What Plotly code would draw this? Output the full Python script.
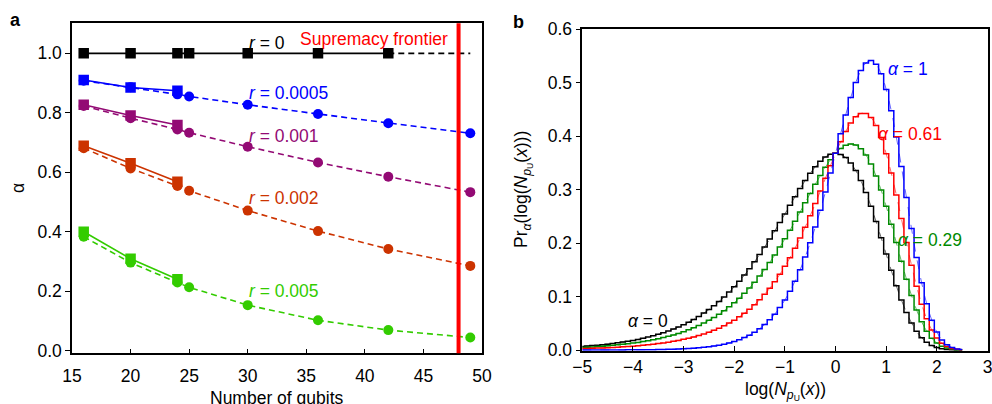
import plotly.graph_objects as go

# ---------------- Panel a data ----------------
qubits = [16, 20, 24, 25, 30, 36, 42, 49]
sim_qubits = [16, 20, 24]
r0_qubits = [16, 20, 24, 25, 30, 36, 42]
r0_values = [1.0, 1.0, 1.0, 1.0, 1.0, 1.0, 1.0]
r0_ext_qubits = [42, 49]
r0_ext_values = [1.0, 1.0]

theory_r0005 = [0.908, 0.886, 0.862, 0.855, 0.827, 0.796, 0.765, 0.731]
theory_r001 = [0.823, 0.782, 0.744, 0.733, 0.686, 0.633, 0.585, 0.533]
theory_r002 = [0.681, 0.613, 0.554, 0.538, 0.471, 0.402, 0.342, 0.285]
theory_r005 = [0.383, 0.296, 0.229, 0.213, 0.153, 0.102, 0.069, 0.044]

sim_r0005 = [0.910, 0.885, 0.874]
sim_r001 = [0.827, 0.791, 0.759]
sim_r002 = [0.689, 0.630, 0.568]
sim_r005 = [0.400, 0.309, 0.240]
sim_err = [0.012, 0.008, 0.012]

frontier_qubits = 48

# ---------------- Panel b data ----------------
log_bins = [-5.0, -4.9, -4.8, -4.7, -4.6, -4.5, -4.4, -4.3, -4.2, -4.1,
            -4.0, -3.9, -3.8, -3.7, -3.6, -3.5, -3.4, -3.3, -3.2, -3.1,
            -3.0, -2.9, -2.8, -2.7, -2.6, -2.5, -2.4, -2.3, -2.2, -2.1,
            -2.0, -1.9, -1.8, -1.7, -1.6, -1.5, -1.4, -1.3, -1.2, -1.1,
            -1.0, -0.9, -0.8, -0.7, -0.6, -0.5, -0.4, -0.3, -0.2, -0.1,
            0.0, 0.1, 0.2, 0.3, 0.4, 0.5, 0.6, 0.7, 0.8, 0.9,
            1.0, 1.1, 1.2, 1.3, 1.4, 1.5, 1.6, 1.7, 1.8, 1.9,
            2.0, 2.1, 2.2, 2.3, 2.4, 2.5]

pr_alpha0 = [0.0067, 0.0074, 0.0082, 0.0090, 0.0100, 0.0110, 0.0121, 0.0134, 0.0148, 0.0163,
             0.0180, 0.0198, 0.0219, 0.0241, 0.0266, 0.0293, 0.0323, 0.0355, 0.0391, 0.0431,
             0.0474, 0.0521, 0.0572, 0.0628, 0.0690, 0.0756, 0.0829, 0.0907, 0.0992, 0.1083,
             0.1182, 0.1288, 0.1401, 0.1522, 0.1650, 0.1785, 0.1927, 0.2075, 0.2229, 0.2386,
             0.2546, 0.2708, 0.2867, 0.3022, 0.3170, 0.3307, 0.3429, 0.3532, 0.3611, 0.3662,
             0.3679, 0.3660, 0.3601, 0.3500, 0.3356, 0.3170, 0.2947, 0.2688, 0.2403, 0.2102,
             0.1794, 0.1490, 0.1201, 0.0936, 0.0703, 0.0507, 0.0350, 0.0230, 0.0143, 0.0083,
             0.0046, 0.0023, 0.0011, 0.0005, 0.0002, 0.0001]

pr_alpha029 = [0.0048, 0.0053, 0.0058, 0.0064, 0.0071, 0.0078, 0.0087, 0.0096, 0.0106, 0.0117,
               0.0129, 0.0142, 0.0157, 0.0173, 0.0191, 0.0211, 0.0232, 0.0256, 0.0282, 0.0311,
               0.0343, 0.0378, 0.0416, 0.0458, 0.0505, 0.0555, 0.0610, 0.0670, 0.0736, 0.0808,
               0.0886, 0.0970, 0.1062, 0.1161, 0.1268, 0.1383, 0.1506, 0.1637, 0.1777, 0.1925,
               0.2080, 0.2242, 0.2409, 0.2581, 0.2756, 0.2930, 0.3101, 0.3266, 0.3421, 0.3561,
               0.3679, 0.3772, 0.3832, 0.3855, 0.3834, 0.3767, 0.3649, 0.3479, 0.3257, 0.2992,
               0.2688, 0.2355, 0.2009, 0.1660, 0.1326, 0.1019, 0.0750, 0.0527, 0.0352, 0.0221,
               0.0130, 0.0071, 0.0036, 0.0017, 0.0007, 0.0003]

pr_alpha061 = [0.0026, 0.0029, 0.0032, 0.0036, 0.0039, 0.0044, 0.0048, 0.0053, 0.0059, 0.0065,
               0.0072, 0.0080, 0.0088, 0.0098, 0.0108, 0.0120, 0.0133, 0.0147, 0.0162, 0.0180,
               0.0199, 0.0221, 0.0244, 0.0271, 0.0300, 0.0333, 0.0369, 0.0409, 0.0454, 0.0504,
               0.0559, 0.0620, 0.0688, 0.0763, 0.0847, 0.0939, 0.1042, 0.1154, 0.1279, 0.1415,
               0.1565, 0.1727, 0.1904, 0.2094, 0.2298, 0.2513, 0.2739, 0.2973, 0.3212, 0.3449,
               0.3679, 0.3895, 0.4087, 0.4247, 0.4363, 0.4425, 0.4424, 0.4351, 0.4199, 0.3974,
               0.3674, 0.3311, 0.2900, 0.2460, 0.2013, 0.1584, 0.1192, 0.0856, 0.0583, 0.0373,
               0.0224, 0.0125, 0.0064, 0.0030, 0.0013, 0.0005]

pr_alpha1 = [0.0000, 0.0001, 0.0001, 0.0001, 0.0001, 0.0001, 0.0001, 0.0002, 0.0002, 0.0003,
             0.0003, 0.0004, 0.0005, 0.0006, 0.0007, 0.0009, 0.0011, 0.0013, 0.0016, 0.0019,
             0.0024, 0.0029, 0.0035, 0.0042, 0.0051, 0.0062, 0.0075, 0.0091, 0.0110, 0.0133,
             0.0160, 0.0193, 0.0232, 0.0278, 0.0333, 0.0398, 0.0475, 0.0566, 0.0671, 0.0794,
             0.0937, 0.1101, 0.1288, 0.1501, 0.1740, 0.2006, 0.2299, 0.2616, 0.2956, 0.3313,
             0.3679, 0.4045, 0.4398, 0.4725, 0.5006, 0.5227, 0.5369, 0.5414, 0.5347, 0.5170,
             0.4876, 0.4475, 0.3986, 0.3434, 0.2851, 0.2272, 0.1731, 0.1256, 0.0864, 0.0558,
             0.0337, 0.0189, 0.0098, 0.0046, 0.0020, 0.0008]

FONT = "Liberation Sans, Arial, Helvetica, sans-serif"
FS = 17.5

C_BLUE = "#0000ff"
C_PURPLE = "#930a74"
C_ORANGE = "#cc3300"
C_GREEN = "#33cc00"

fig = go.Figure()

# ---- Panel a traces ----
series_a = [
    (theory_r0005, sim_r0005, C_BLUE),
    (theory_r001, sim_r001, C_PURPLE),
    (theory_r002, sim_r002, C_ORANGE),
    (theory_r005, sim_r005, C_GREEN),
]
for theo, sim, col in series_a:
    fig.add_trace(go.Scatter(
        x=qubits, y=theo, mode="lines+markers", xaxis="x", yaxis="y",
        line=dict(color=col, width=1.6, dash="6px,4px"),
        marker=dict(symbol="circle", size=10, color=col),
        showlegend=False, hoverinfo="skip"))
    fig.add_trace(go.Scatter(
        x=sim_qubits, y=sim, mode="lines+markers", xaxis="x", yaxis="y",
        line=dict(color=col, width=1.6),
        marker=dict(symbol="square", size=10.5, color=col),
        error_y=dict(type="data", array=sim_err, color=col, thickness=1.5, width=3),
        showlegend=False, hoverinfo="skip"))

fig.add_trace(go.Scatter(
    x=r0_ext_qubits, y=r0_ext_values, mode="lines", xaxis="x", yaxis="y",
    line=dict(color="black", width=1.6, dash="6px,4px"),
    showlegend=False, hoverinfo="skip"))
fig.add_trace(go.Scatter(
    x=r0_qubits, y=r0_values, mode="lines+markers", xaxis="x", yaxis="y",
    line=dict(color="black", width=1.6),
    marker=dict(symbol="square", size=10.5, color="black"),
    showlegend=False, hoverinfo="skip"))

fig.add_shape(type="line", xref="x", yref="y domain",
              x0=frontier_qubits, x1=frontier_qubits, y0=0, y1=1,
              line=dict(color="#ff0000", width=4), layer="above")

# ---- Panel b traces ----
series_b = [
    (pr_alpha0, "#000000"),
    (pr_alpha029, "#008a00"),
    (pr_alpha061, "#ff0000"),
    (pr_alpha1, "#0000ff"),
]
for vals, col in series_b:
    fig.add_trace(go.Scatter(
        x=log_bins, y=vals, mode="lines", xaxis="x2", yaxis="y2",
        line=dict(color=col, width=1.5, shape="hvh"),
        showlegend=False, hoverinfo="skip"))
    fig.add_trace(go.Scatter(
        x=log_bins, y=vals, mode="lines", xaxis="x2", yaxis="y2",
        line=dict(color=col, width=1, dash="dash", shape="spline"),
        opacity=0.6, showlegend=False, hoverinfo="skip"))

W, H = 992, 404

def px_x(p):
    return p / W

def px_y(p):
    return (H - p) / H

axis_common = dict(showline=True, linecolor="black", linewidth=1.5, mirror=True,
                   showgrid=False, zeroline=False, automargin=False,
                   ticklabeloverflow="allow",
                   tickfont=dict(family=FONT, size=FS, color="black"),
                   tickcolor="black", tickwidth=1.2)

fig.update_layout(
    template="none",
    width=W, height=H,
    margin=dict(l=0, r=0, t=0, b=0, pad=0),
    paper_bgcolor="white", plot_bgcolor="white",
    font=dict(family=FONT, size=FS, color="black"),
    xaxis=dict(domain=[px_x(72), px_x(482)], anchor="y", range=[15, 50],
               tickvals=[15, 20, 25, 30, 35, 40, 45, 50], ticks="inside", ticklen=5,
               ticklabelstandoff=6, **axis_common),
    yaxis=dict(domain=[px_y(353.3), px_y(23.3)], anchor="x", range=[-0.009, 1.101],
               tickvals=[0, 0.2, 0.4, 0.6, 0.8, 1.0], tickformat=".1f",
               ticks="outside", ticklen=5, **axis_common),
    xaxis2=dict(domain=[px_x(582.3), px_x(987.5)], anchor="y2", range=[-5, 3],
                tickvals=[-5, -4, -3, -2, -1, 0, 1, 2, 3], ticks="inside", ticklen=5,
                ticklabelstandoff=0, **axis_common),
    yaxis2=dict(domain=[px_y(350.7), px_y(29.3)], anchor="x2", range=[-0.0013, 0.6],
                tickvals=[0, 0.1, 0.2, 0.3, 0.4, 0.5, 0.6], tickformat=".1f",
                ticks="outside", ticklen=5, **axis_common),
)

ann = []
def add_text(text, x, y, xref, yref, color="black", size=FS, xanchor="left",
             yanchor="middle", angle=0):
    ann.append(dict(text=text, x=x, y=y, xref=xref, yref=yref, showarrow=False,
                    font=dict(family=FONT, size=size, color=color),
                    xanchor=xanchor, yanchor=yanchor, textangle=angle))

# Panel a labels
add_text("<i>r</i> = 0", 29.9, 1.035, "x", "y")
add_text("Supremacy frontier", 34.3, 1.048, "x", "y", color="#ff0000")
add_text("<i>r</i> = 0.0005", 29.9, 0.865, "x", "y", color=C_BLUE)
add_text("<i>r</i> = 0.001", 29.9, 0.722, "x", "y", color=C_PURPLE)
add_text("<i>r</i> = 0.002", 29.9, 0.512, "x", "y", color=C_ORANGE)
add_text("<i>r</i> = 0.005", 29.9, 0.199, "x", "y", color=C_GREEN)

# Panel b labels
add_text("<i>α</i> = 1", 1.0, 0.526, "x2", "y2", color="#0000ff")
add_text("<i>α</i> = 0.61", 0.8, 0.405, "x2", "y2", color="#ff0000")
add_text("<i>α</i> = 0.29", 1.2, 0.206, "x2", "y2", color="#008a00")
add_text("<i>α</i> = 0", -4.14, 0.055, "x2", "y2", color="black")

# Axis titles
add_text("Number of qubits", px_x(277), px_y(386), "paper", "paper", xanchor="center", yanchor="top")
add_text("α", px_x(18), px_y(188), "paper", "paper", xanchor="center", angle=-90)
add_text("log(<i>N</i><sub><i>p</i><sub>U</sub></sub>(<i>x</i>))", px_x(785), px_y(377),
         "paper", "paper", xanchor="center", yanchor="top")
add_text("Pr<sub><i>α</i></sub>(log(<i>N</i><sub><i>p</i><sub>U</sub></sub>(<i>x</i>)))",
         px_x(523), px_y(190), "paper", "paper", xanchor="center", angle=-90)

# Panel letters
add_text("<b>a</b>", px_x(15), px_y(20), "paper", "paper", xanchor="center", size=18)
add_text("<b>b</b>", px_x(518), px_y(22), "paper", "paper", xanchor="center", size=18)

fig.update_layout(annotations=ann)

fig.write_html("out.html", config={"displayModeBar": False},
               post_script="document.body.style.margin='0px';")
